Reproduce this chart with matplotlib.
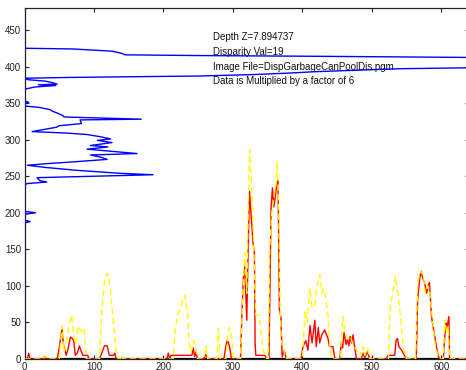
import matplotlib
matplotlib.use("Agg")
import matplotlib.pyplot as plt

plt.rcParams['font.family'] = ['Liberation Sans', 'DejaVu Sans']

# vertical profile (blue): value along x for each image row
blue_rows = [480, 425, 424, 421, 418, 416, 415, 414, 413, 412, 399, 397, 395, 393, 391, 389, 387, 386,
             385, 384,
             382, 380, 378, 376, 375, 374, 372, 370, 369, 353, 351, 349, 346, 344, 341, 339, 336, 333,
             331, 328, 327, 322, 319, 317, 311, 309, 307, 304, 301, 299, 296, 292, 290, 287, 281, 279,
             276, 273, 270, 267, 265, 262, 258, 254, 252, 248, 244, 242, 240, 238, 202, 200, 198, 190,
             188, 186, 0]
blue_vals = [0, 0, 70, 126, 140, 145, 250, 420, 560, 700, 700, 540, 480, 420, 380, 330, 250, 150,
             60, 0,
             5, 30, 40, 47, 20, 45, 15, 5, 0, 0, 6, 0, 0, 22, 37, 40, 48, 55,
             57, 168, 80, 82, 50, 46, 11, 60, 90, 109, 124, 105, 126, 95, 120, 90, 162, 95,
             110, 119, 76, 30, 4, 30, 76, 137, 185, 18, 22, 32, 4, 0, 0, 16, 0, 0,
             8, 0, 0]

# horizontal profiles along columns
red_x = [0, 4, 6, 8, 27, 29, 31, 47, 50, 54, 56, 60, 63, 66, 69, 71, 73, 76, 79, 81, 84, 91, 93,
         108, 112, 115, 119, 122, 128, 130, 132, 205, 207, 209, 211, 241, 243, 245, 247, 249, 258,
         261, 264, 287, 290, 292, 295, 298, 311, 313, 315, 317, 320, 322, 324, 327, 329, 331, 332,
         333, 346, 349, 352, 355, 357, 359, 361, 363, 365, 367, 369, 371, 374, 377, 398, 401, 405,
         408, 411, 414, 418, 420, 423, 425, 428, 432, 437, 439, 444, 447, 454, 456, 458, 460, 463,
         465, 467, 469, 471, 473, 476, 478, 485, 487, 490, 494, 497, 521, 523, 533, 535, 537, 539,
         543, 548, 552, 564, 566, 569, 571, 574, 576, 579, 581, 583, 586, 589, 591, 593, 596, 598,
         603, 605, 607, 608, 611, 612, 640]
red_y = [0, 0, 8, 0, 0, 4, 0, 0, 15, 42, 20, 5, 15, 30, 28, 25, 5, 8, 18, 12, 5, 5, 0,
         0, 10, 18, 18, 5, 5, 8, 0, 0, 8, 0, 5, 5, 15, 3, 10, 0, 0,
         6, 0, 0, 18, 26, 18, 0, 0, 60, 110, 126, 53, 150, 229, 186, 158, 145, 22,
         5, 5, 0, 0, 208, 234, 208, 222, 236, 245, 67, 58, 3, 12, 0, 0, 17, 25,
         12, 46, 22, 53, 17, 43, 22, 33, 40, 28, 17, 17, 0, 0, 22, 15, 36, 20,
         27, 18, 31, 22, 33, 12, 0, 0, 8, 2, 10, 0, 0, 5, 5, 26, 28, 17,
         12, 3, 0, 0, 81, 110, 120, 108, 104, 90, 100, 105, 58, 40, 29, 17, 3, 0,
         0, 30, 49, 41, 58, 0, 0]

yellow_x = [0, 27, 30, 33, 50, 54, 57, 60, 64, 68, 71, 74, 77, 80, 83, 86, 89, 108, 111, 115, 119,
            121, 124, 128, 132, 135, 138, 140, 142, 214, 217, 220, 225, 228, 231, 235, 237, 240, 243,
            246, 249, 258, 261, 264, 277, 279, 282, 290, 293, 295, 298, 301, 311, 314, 317, 320, 322,
            324, 327, 329, 331, 333, 337, 340, 343, 346, 349, 351, 353, 356, 359, 362, 364, 366, 368,
            370, 372, 375, 378, 400, 404, 407, 411, 414, 418, 421, 425, 428, 430, 433, 437, 440, 443,
            455, 458, 461, 464, 467, 470, 473, 476, 480, 482, 485, 487, 490, 494, 497, 524, 526, 530,
            534, 537, 540, 543, 546, 550, 563, 566, 570, 574, 577, 581, 583, 586, 591, 593, 596, 598,
            603, 605, 608, 610, 611, 612, 640]
yellow_y = [0, 0, 5, 0, 0, 45, 10, 20, 45, 60, 30, 20, 45, 40, 35, 40, 0, 0, 60, 105, 117,
            115, 90, 50, 10, 0, 0, 5, 0, 0, 40, 60, 70, 81, 87, 60, 20, 10, 25,
            20, 0, 0, 17, 0, 0, 42, 0, 0, 35, 43, 30, 0, 0, 80, 145, 90, 200,
            286, 240, 190, 120, 60, 60, 43, 15, 5, 0, 0, 150, 200, 220, 240, 270, 200, 70,
            20, 20, 5, 0, 0, 67, 50, 97, 70, 74, 100, 115, 90, 96, 89, 58, 12, 0,
            0, 58, 40, 31, 25, 28, 20, 15, 10, 12, 5, 17, 5, 15, 0, 0, 67, 90,
            113, 94, 70, 40, 12, 0, 0, 104, 120, 115, 90, 100, 95, 67, 21, 12, 3, 0,
            0, 54, 35, 45, 21, 0, 0]

base_x = [0, 640]
base_y = [0, 0]

notes = ["Depth Z=7.894737", "Disparity Val=19",
         "Image File=DispGarbageCanPoolDis.pgm", "Data is Multiplied by a factor of 6"]
note_x = 271
note_y = [440, 420, 400, 380]

fig = plt.figure(figsize=(4.66, 3.70), dpi=100)
ax = fig.add_axes([0.0526, 0.0297, 0.9539, 0.9486])

ax.plot(base_x, base_y, color="black", linewidth=1.6, zorder=2)
ax.plot(red_x, red_y, color="#ff0000", linewidth=1.0, zorder=3)
ax.plot(yellow_x, yellow_y, color="#ffff00", linewidth=1.0, dashes=(4.5, 2.5), zorder=3)

for t, yy in zip(notes, note_y):
    ax.text(note_x, yy, t, fontsize=7, va="center", ha="left", color="#111111", zorder=3.5)

ax.plot(blue_vals, blue_rows, color="#0000ff", linewidth=1.0, zorder=4)

ax.set_xlim(0, 640)
ax.set_ylim(0, 480)
ax.set_xticks(range(0, 601, 100))
ax.set_yticks(range(0, 451, 50))
ax.tick_params(direction="in", length=3, width=0.8, labelsize=7, colors="#222222",
               top=True, right=True, pad=2.5)
for s in ax.spines.values():
    s.set_linewidth(0.9)
    s.set_color("#222222")

fig.savefig("out.png", dpi=100)
